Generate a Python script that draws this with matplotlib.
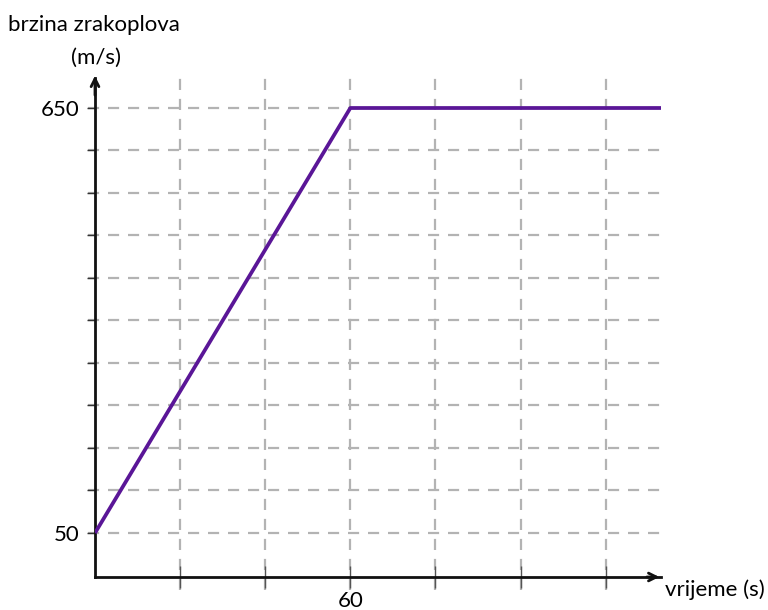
import matplotlib.pyplot as plt

plt.rcParams['font.family'] = ['Lato', 'DejaVu Sans']

# data
time_s = [0, 60, 133]
speed = [50, 650, 650]

x_grid = [20, 40, 60, 80, 100, 120]
y_grid = [50, 110, 170, 230, 290, 350, 410, 470, 530, 590, 650]
x_labels = {60: "60"}
y_labels = {50: "50", 650: "650"}

W, H = 768, 610
fig = plt.figure(figsize=(W / 100, H / 100), dpi=100)

# axes box in pixels: left 95, right 661, bottom 577, top 78
ax = fig.add_axes([95 / W, (H - 577) / H, (661 - 95) / W, (577 - 78) / H])
x_max = 133
y_lo = 50 - (577 - 533) / 42.5 * 60
y_hi = 650 + (108 - 78) / 42.5 * 60
ax.set_xlim(0, x_max)
ax.set_ylim(y_lo, y_hi)

grid_kw = dict(color="#b3b3b3", linewidth=1.6, linestyles=(0, (5, 4)), clip_on=False, zorder=1)
dy = (y_hi - y_lo) / (577 - 78)
dx = x_max / (661 - 95)
ax.vlines(x_grid, y_lo - 13 * dy, y_hi + 3 * dy, **grid_kw)
ax.hlines(y_grid, -7 * dx, x_max, **grid_kw)

ax.plot(time_s, speed, color="#5a1697", linewidth=2.7, zorder=3, solid_capstyle="butt")

for s in ["top", "right"]:
    ax.spines[s].set_visible(False)
for s in ["left", "bottom"]:
    ax.spines[s].set_linewidth(2)
    ax.spines[s].set_color("#111111")

ax.set_xticks(x_grid)
ax.set_xticklabels([x_labels.get(v, "") for v in x_grid], fontsize=16)
ax.set_yticks(y_grid)
ax.set_yticklabels([y_labels.get(v, "") for v in y_grid], fontsize=16)
ax.tick_params(axis="x", direction="inout", length=16, width=1, color="#555555", pad=2)
ax.tick_params(axis="y", direction="out", length=6, width=1, color="#333333", pad=5)

# arrow heads
ax.annotate("", xy=(1.002, 0), xytext=(0.97, 0), xycoords="axes fraction",
            arrowprops=dict(arrowstyle="->", color="#111111", lw=2, mutation_scale=14))
ax.annotate("", xy=(0, 1.01), xytext=(0, 0.96), xycoords="axes fraction",
            arrowprops=dict(arrowstyle="->", color="#111111", lw=2, mutation_scale=14))

fig.text(8 / W, 1 - 25 / H, "brzina zrakoplova", fontsize=16, ha="left", va="center")
fig.text(96 / W, 1 - 58 / H, "(m/s)", fontsize=16, ha="center", va="center")
fig.text(665 / W, 1 - 590 / H, "vrijeme (s)", fontsize=16, ha="left", va="center")

fig.savefig("out.png", dpi=100)
